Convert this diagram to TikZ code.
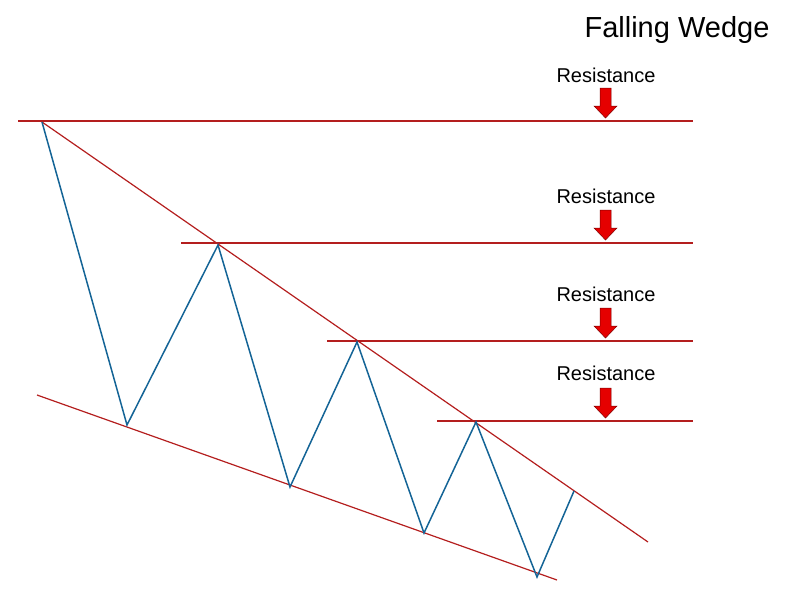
\documentclass[tikz,border=0pt]{standalone}
\usepackage{fontspec}
\setmainfont{Liberation Sans}
\definecolor{wred}{RGB}{180,30,30}
\definecolor{wblue}{RGB}{20,100,150}
\begin{document}
\begin{tikzpicture}[x=1pt,y=-1pt,
  res/.style={draw=wred,line width=1.2pt},
  zig/.style={draw=wblue,line width=1.5pt},
  lbl/.style={font=\fontsize{20}{20}\selectfont,inner sep=0pt},
  downarr/.style={fill=red!90!black,draw=red!50!black,line width=0.5pt}]
\useasboundingbox (0,0) rectangle (800,600);
\node[font=\fontsize{29}{29}\selectfont,inner sep=0pt] (title) at (677,30) {Falling Wedge};
% resistance lines
\foreach \y/\xa/\ly [count=\i] in {121/18/75, 243/181/196, 341/327/294, 421/437/373}{
  \coordinate (rl\i) at (\xa,\y);
  \coordinate (rr\i) at (693,\y);
  \draw[res] (rl\i) -- (rr\i);
  \node[lbl] (lab\i) at (606,\ly) {Resistance};
  \filldraw[downarr] (600,\y-33) -- (611,\y-33) -- (611,\y-15) -- (617,\y-15) -- (605.5,\y-3) -- (594,\y-15) -- (600,\y-15) -- cycle;
}
% trendlines
\coordinate (u0) at (42,122); \coordinate (u1) at (648,542);
\coordinate (l0) at (37,395); \coordinate (l1) at (557,580);
\draw[res] (u0) -- (u1);
\draw[res] (l0) -- (l1);
% zigzag
\coordinate (p1) at (42,122); \coordinate (p2) at (127,425);
\coordinate (p3) at (218,245); \coordinate (p4) at (290,487);
\coordinate (p5) at (357,342); \coordinate (p6) at (424,533);
\coordinate (p7) at (476,422); \coordinate (p8) at (537,577);
\coordinate (p9) at (574,491);
\draw[zig,line join=miter] (p1)--(p2)--(p3)--(p4)--(p5)--(p6)--(p7)--(p8)--(p9);
\end{tikzpicture}
\end{document}
